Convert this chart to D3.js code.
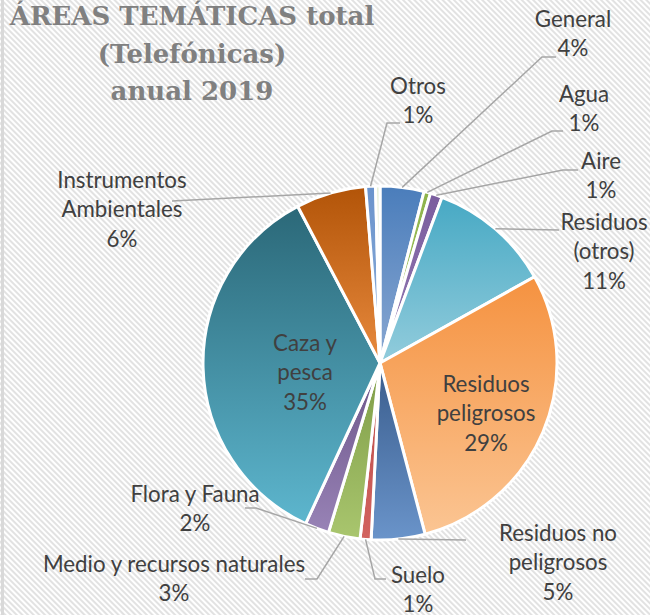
<!DOCTYPE html>
<meta charset="utf-8">
<style>
body { margin: 0; background: #fff; }
.label text { font-family: Lato, "Open Sans", sans-serif; font-size: 22.3px; fill: #404040; }
.title { font-family: "DejaVu Serif", serif; font-weight: bold; font-size: 26px; fill: #808080; }
.leader { fill: none; stroke: #a6a6a6; stroke-width: 1.5px; }
</style>
<svg width="650" height="615"></svg>
<script src="https://d3js.org/d3.v7.min.js"></script>
<script>

// data
var categories = ["General", "Agua", "Aire", "Residuos (otros)", "Residuos peligrosos",
  "Residuos no peligrosos", "Suelo", "Medio y recursos naturales", "Flora y Fauna",
  "Caza y pesca", "Instrumentos Ambientales", "Otros", ""];
var values = [4.0, 0.6, 1.1, 11.2, 29.0, 4.9, 1.0, 2.9, 2.2, 35.4, 6.4, 0.9, 0.4];
var labelLines = [["General"], ["Agua"], ["Aire"], ["Residuos", "(otros)"], ["Residuos", "peligrosos"],
  ["Residuos no", "peligrosos"], ["Suelo"], ["Medio y recursos naturales"], ["Flora y Fauna"],
  ["Caza y", "pesca"], ["Instrumentos", "Ambientales"], ["Otros"], null];
var titleLines = ["ÁREAS TEMÁTICAS total", "(Telefónicas)", "anual 2019"];

// styles: gradient top / bottom per slice
var colTop = ["#4a7dbb", "#8db34a", "#7a5d9e", "#47a9c4", "#f59240", "#395c8c", "#b94a47",
  "#7d9b46", "#6b5388", "#2b6878", "#b25408", "#6a93cc", "#e3ecd2"];
var colBot = ["#8aa8d2", "#a6c76a", "#937bb3", "#92ccdc", "#fbc593", "#6a94ca", "#d2635f",
  "#a9c66e", "#9883b6", "#5db6ce", "#e88a3e", "#8fb0da", "#eef3e4"];

// label layout: [center x, first baseline y], leader bend points after the pie edge
var labelPos = [[573, 27], [584, 102], [601, 169], [604, 230], [486, 392], [558, 541],
  [418, 583], [174, 572], [195, 502], [305, 351], [122, 188], [418, 94], null];
var leaders = [[[542, 57], [556, 57]], [[552, 131], [563, 131]], [[563, 170], [578, 170]],
  [[559, 230]], null, [[466, 540]], [[375, 579], [386, 579]], [[317, 579], [305, 579]],
  [[256, 508], [245, 508]], null, [[172, 201]], [[387, 123], [400, 123]], null];
var lineH = 29.3;

var svg = d3.select("svg"),
    width = +svg.attr("width"),
    height = +svg.attr("height");

var defs = svg.append("defs");

// striped background
var pat = defs.append("pattern")
    .attr("id", "stripes")
    .attr("patternUnits", "userSpaceOnUse")
    .attr("width", 4).attr("height", 4)
    .attr("patternTransform", "rotate(-45)");
pat.append("rect").attr("width", 4).attr("height", 4).attr("fill", "#ffffff");
pat.append("rect").attr("width", 2).attr("height", 4).attr("fill", "#e2e2e2");

svg.append("rect").attr("width", width).attr("height", height).attr("fill", "url(#stripes)");
svg.append("line").attr("x1", 2.5).attr("x2", 2.5).attr("y1", 0).attr("y2", height)
    .attr("stroke", "#d9d9d9").attr("stroke-width", 3);

// title
var title = svg.append("text").attr("class", "title").attr("text-anchor", "middle");
titleLines.forEach(function(t, i) {
  title.append("tspan").attr("x", 192).attr("y", 25 + i * 37.5).text(t);
});

// gradients
values.forEach(function(v, i) {
  var g = defs.append("linearGradient").attr("id", "grad" + i)
      .attr("x1", 0).attr("y1", 0).attr("x2", 0).attr("y2", 1);
  g.append("stop").attr("offset", "0%").attr("stop-color", colTop[i]);
  g.append("stop").attr("offset", "100%").attr("stop-color", colBot[i]);
});

var cx = 380, cy = 363, r = 177;

var pie = d3.pie().sort(null).value(function(d) { return d; });
var arcs = pie(values);
var arc = d3.arc().innerRadius(0).outerRadius(r);
var edgeArc = d3.arc().innerRadius(r).outerRadius(r);

var g = svg.append("g").attr("transform", "translate(" + cx + "," + cy + ")");

g.selectAll("path.slice")
  .data(arcs)
  .enter().append("path")
    .attr("class", "slice")
    .attr("d", arc)
    .attr("fill", function(d, i) { return "url(#grad" + i + ")"; })
    .attr("stroke", "#fff")
    .attr("stroke-width", 3)
    .attr("stroke-linejoin", "round");

// leader lines
var line = d3.line();
arcs.forEach(function(d, i) {
  if (!leaders[i]) return;
  var c = edgeArc.centroid(d);
  var pts = [[cx + c[0], cy + c[1]]].concat(leaders[i]);
  svg.append("path").attr("class", "leader").attr("d", line(pts));
});

// labels
var labels = svg.append("g").attr("class", "label");
arcs.forEach(function(d, i) {
  if (!labelLines[i]) return;
  var lines = labelLines[i].concat([Math.round(d.value) + "%"]);
  var t = labels.append("text").attr("text-anchor", "middle");
  lines.forEach(function(s, k) {
    t.append("tspan").attr("x", labelPos[i][0]).attr("y", labelPos[i][1] + k * lineH).text(s);
  });
});

</script>
